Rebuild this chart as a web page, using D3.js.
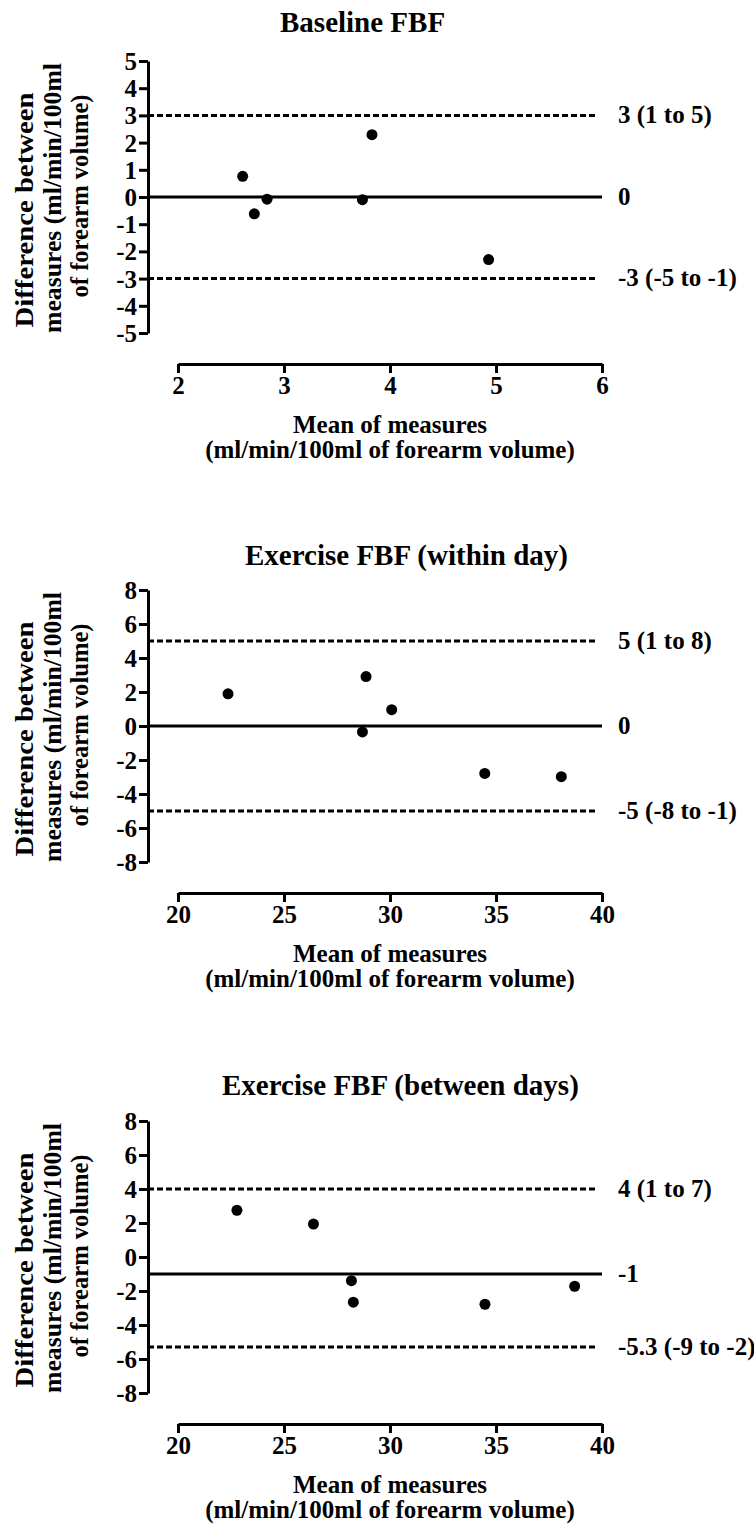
<!DOCTYPE html>
<html>
<head>
<meta charset="utf-8">
<script src="https://cdn.jsdelivr.net/npm/d3@7"></script>
<style>
  html, body { margin: 0; padding: 0; background: #fff; }
  svg { display: block; }
  svg text { font-family: "Liberation Serif", "Times New Roman", serif !important; font-weight: bold; fill: #000; }
</style>
</head>
<body>
<svg id="chart" width="754" height="1524"></svg>
<script>
// Bland-Altman data: mean of the two measures vs. their difference
const baselineMean = [2.61, 2.72, 2.84, 3.74, 3.83, 4.93];
const baselineDiff = [0.76, -0.62, -0.08, -0.10, 2.29, -2.30];

const withinMean = [22.36, 28.70, 28.87, 30.08, 34.47, 38.08];
const withinDiff = [1.89, -0.35, 2.91, 0.96, -2.79, -2.98];

const betweenMean = [22.78, 26.39, 28.18, 28.27, 34.48, 38.71];
const betweenDiff = [2.75, 1.94, -1.39, -2.66, -2.78, -1.72];

// Bias and limits of agreement: [upper, bias, lower]
const baselineLines = [3, 0, -3];
const baselineLineLabels = ["3 (1 to 5)", "0", "-3 (-5 to -1)"];
const withinLines = [5, 0, -5];
const withinLineLabels = ["5 (1 to 8)", "0", "-5 (-8 to -1)"];
const betweenLines = [4, -1, -5.3];
const betweenLineLabels = ["4 (1 to 7)", "-1", "-5.3 (-9 to -2)"];

// Axis ticks
const baselineXTicks = [2, 3, 4, 5, 6];
const baselineYTicks = [5, 4, 3, 2, 1, 0, -1, -2, -3, -4, -5];
const exerciseXTicks = [20, 25, 30, 35, 40];
const exerciseYTicks = [8, 6, 4, 2, 0, -2, -4, -6, -8];

const titles = ["Baseline FBF", "Exercise FBF (within day)", "Exercise FBF (between days)"];
const yLabelLines = ["Difference between", "measures (ml/min/100ml", "of forearm volume)"];
const xLabelLines = ["Mean of measures", "(ml/min/100ml of forearm volume)"];

const panels = [
  { title: titles[0], mean: baselineMean, diff: baselineDiff, lines: baselineLines, labels: baselineLineLabels,
    xTicks: baselineXTicks, yTicks: baselineYTicks, xDomain: [2, 6], yDomain: [-5, 5],
    top: 61, titleX: 280, titleY: 32 },
  { title: titles[1], mean: withinMean, diff: withinDiff, lines: withinLines, labels: withinLineLabels,
    xTicks: exerciseXTicks, yTicks: exerciseYTicks, xDomain: [20, 40], yDomain: [-8, 8],
    top: 590, titleX: 245, titleY: 565 },
  { title: titles[2], mean: betweenMean, diff: betweenDiff, lines: betweenLines, labels: betweenLineLabels,
    xTicks: exerciseXTicks, yTicks: exerciseYTicks, xDomain: [20, 40], yDomain: [-8, 8],
    top: 1121, titleX: 222, titleY: 1095 }
];

const svg = d3.select("#chart");
const yAxisX = 148, plotH = 272;
const xLeft = 178, xRight = 602, lineEnd = 602, dashEnd = 596;
const xAxisGap = 31;
const plainNum = d => String(d);   // hyphen-minus, as typeset on the figure
const font = '"Liberation Serif", "Times New Roman", serif';

// Rotated y-title lines: x of baseline, length and offset of centre from plot middle
const yLabelX = [33, 61, 88];
const yLabelLen = [235, 270, 203];
const yLabelShift = [13, 1, -1];

panels.forEach(p => {
  const g = svg.append("g");
  const y = d3.scaleLinear().domain(p.yDomain).range([p.top + plotH, p.top]);
  const x = d3.scaleLinear().domain(p.xDomain).range([xLeft, xRight]);
  const xAxisY = p.top + plotH + xAxisGap;

  // Title
  g.append("text").attr("x", p.titleX).attr("y", p.titleY)
    .style("font-size", "29px").text(p.title);

  // Y axis
  const yAxis = g.append("g").attr("transform", `translate(${yAxisX},0)`)
    .call(d3.axisLeft(y).tickValues(p.yTicks).tickSize(9).tickSizeOuter(0).tickPadding(2)
      .tickFormat(plainNum));
  yAxis.attr("font-family", font).attr("font-size", 25);
  yAxis.select(".domain").attr("stroke", "#000").attr("stroke-width", 3);
  yAxis.selectAll(".tick line").attr("stroke", "#000").attr("stroke-width", 3);
  yAxis.selectAll(".tick text").style("font-size", "25px").style("font-family", font)
    .attr("dy", "0.34em");

  // X axis
  const xAxis = g.append("g").attr("transform", `translate(0,${xAxisY})`)
    .call(d3.axisBottom(x).tickValues(p.xTicks).tickSize(9).tickSizeOuter(0).tickPadding(3)
      .tickFormat(plainNum));
  xAxis.attr("font-family", font).attr("font-size", 25);
  xAxis.select(".domain").attr("stroke", "#000").attr("stroke-width", 3);
  xAxis.selectAll(".tick line").attr("stroke", "#000").attr("stroke-width", 3);
  xAxis.selectAll(".tick text").style("font-size", "25px").style("font-family", font)
    .attr("dy", null).attr("y", 30);

  // Y axis title (three rotated lines)
  const midY = p.top + plotH / 2;
  yLabelLines.forEach((t, i) => {
    g.append("text")
      .attr("transform", `translate(${yLabelX[i]},${midY + yLabelShift[i]}) rotate(-90)`)
      .attr("text-anchor", "middle")
      .attr("textLength", yLabelLen[i]).attr("lengthAdjust", "spacingAndGlyphs")
      .style("font-size", "25px").text(t);
  });

  // X axis title
  xLabelLines.forEach((t, i) => {
    g.append("text").attr("x", (xLeft + xRight) / 2).attr("y", xAxisY + 69 + i * 25)
      .attr("text-anchor", "middle").style("font-size", "25px").text(t);
  });

  // Bias (solid) and limits of agreement (dashed)
  p.lines.forEach((v, i) => {
    const solid = i === 1;
    g.append("line")
      .attr("x1", yAxisX).attr("x2", solid ? lineEnd : dashEnd)
      .attr("y1", y(v)).attr("y2", y(v))
      .attr("stroke", "#000")
      .attr("stroke-width", 3)
      .attr("stroke-dasharray", solid ? null : "6,3");
    g.append("text").attr("x", 618).attr("y", y(v)).attr("dy", "0.3em")
      .style("font-size", "25px").text(p.labels[i]);
  });

  // Data points
  g.selectAll("circle.pt").data(d3.zip(p.mean, p.diff)).join("circle")
    .attr("class", "pt")
    .attr("cx", d => x(d[0])).attr("cy", d => y(d[1])).attr("r", 5.5)
    .attr("fill", "#000");
});
</script>
</body>
</html>
